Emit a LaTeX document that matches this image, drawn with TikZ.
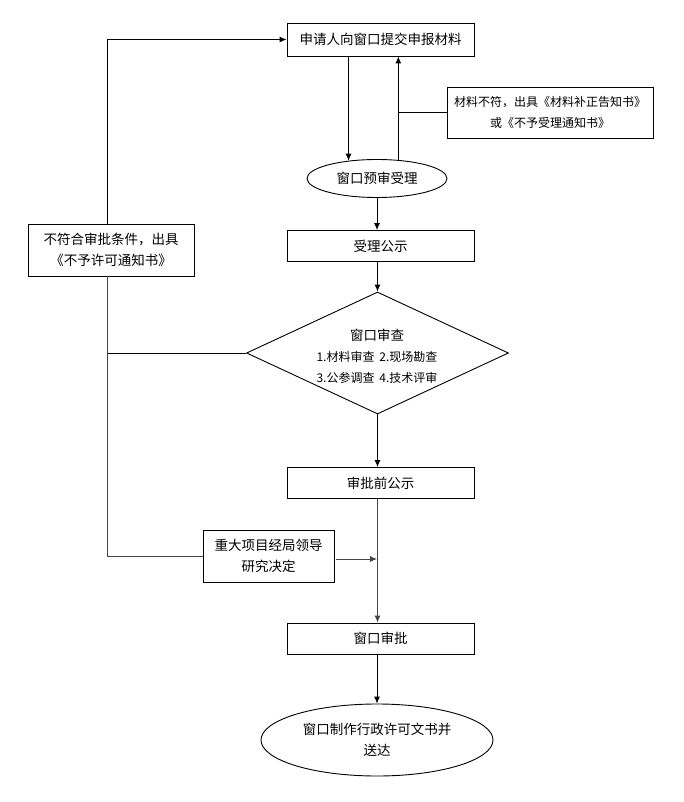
\documentclass[tikz,border=0pt]{standalone}
\usepackage{fontspec}
\setmainfont{Noto Sans CJK SC}
\usetikzlibrary{arrows.meta,shapes.geometric}
\begin{document}
\begin{tikzpicture}[x=1pt,y=-1pt,
  every node/.style={inner sep=0pt, align=center},
  txt/.style={font=\fontsize{13.5}{21}\selectfont},
  stxt/.style={font=\fontsize{12}{21}\selectfont},
  boxn/.style={draw, line width=0.9pt, fill=white, txt},
  ell/.style={draw, ellipse, line width=0.9pt, fill=white, txt},
  conn/.style={line width=0.9pt, draw=black},
  gconn/.style={line width=0.9pt, draw={rgb,255:red,70;green,70;blue,70}},
  arr/.style={-{Latex[length=7pt,width=6pt]}}
]
\useasboundingbox (0,0) rectangle (684,802);
\fill[white] (0,0) rectangle (684,802);

\coordinate (lx) at (107,0);
\coordinate (j) at (377,559);

\node[boxn, minimum width=187pt, minimum height=33pt] (b1) at (380.5,39.5) {申请人向窗口提交申报材料};
\node[boxn, stxt, minimum width=206pt, minimum height=51pt] (note) at (550,112.5) {材料不符，出具《材料补正告知书》\\或《不予受理通知书》};
\node[ell, minimum width=140pt, minimum height=38pt] (e1) at (377,178.5) {窗口预审受理};
\node[boxn, minimum width=187pt, minimum height=31pt] (b2) at (380.5,246) {受理公示};
\node[draw, diamond, line width=0.9pt, fill=white, minimum width=262pt, minimum height=122pt] (d) at (377.5,353) {};
\node[txt] (dt) at (377,356) {窗口审查\\{\fontsize{12}{20}\selectfont 1.材料审查\hspace{5pt}2.现场勘查}\\{\fontsize{12}{20}\selectfont 3.公参调查\hspace{5pt}4.技术评审}};
\node[boxn, minimum width=187pt, minimum height=31pt] (b3) at (380.5,483) {审批前公示};
\node[boxn, minimum width=131pt, minimum height=52pt] (b4) at (268.5,556) {重大项目经局领导\\研究决定};
\node[boxn, minimum width=187pt, minimum height=31pt] (b5) at (380.5,638.5) {窗口审批};
\node[ell, minimum width=232pt, minimum height=72pt] (e2) at (377,740) {窗口制作行政许可文书并\\送达};
\node[boxn, minimum width=166pt, minimum height=52pt] (n) at (111,250) {不符合审批条件，出具\\《不予许可通知书》};

% main flow
\draw[conn, arr] (b1.south -| e1.148) -- (e1.148);
\draw[conn, arr] (e1.41) -- (e1.41 |- b1.south);
\draw[conn] (note.west) -- (note.west -| e1.41);
\draw[conn, arr] (e1.south) -- (e1.south |- b2.north);
\draw[conn, arr] (b2.south -| d.north) -- (d.north);
\draw[conn, arr] (d.south) -- (d.south |- b3.north);
\draw[gconn, arr] (b3.south -| d.south) -- (d.south |- b5.north);
\draw[gconn, arr] ([xshift=2pt]b4.east |- j) -- (j);
\draw[conn, arr] (b5.south -| e2.north) -- (e2.north);

% left feedback loop
\draw[conn] (d.west) -- (d.west -| lx);
\draw[gconn] (b4.west) -- (b4.west -| lx) -- (n.south -| lx);
\draw[conn, arr] (n.north -| lx) |- (b1.west);
\end{tikzpicture}
\end{document}
